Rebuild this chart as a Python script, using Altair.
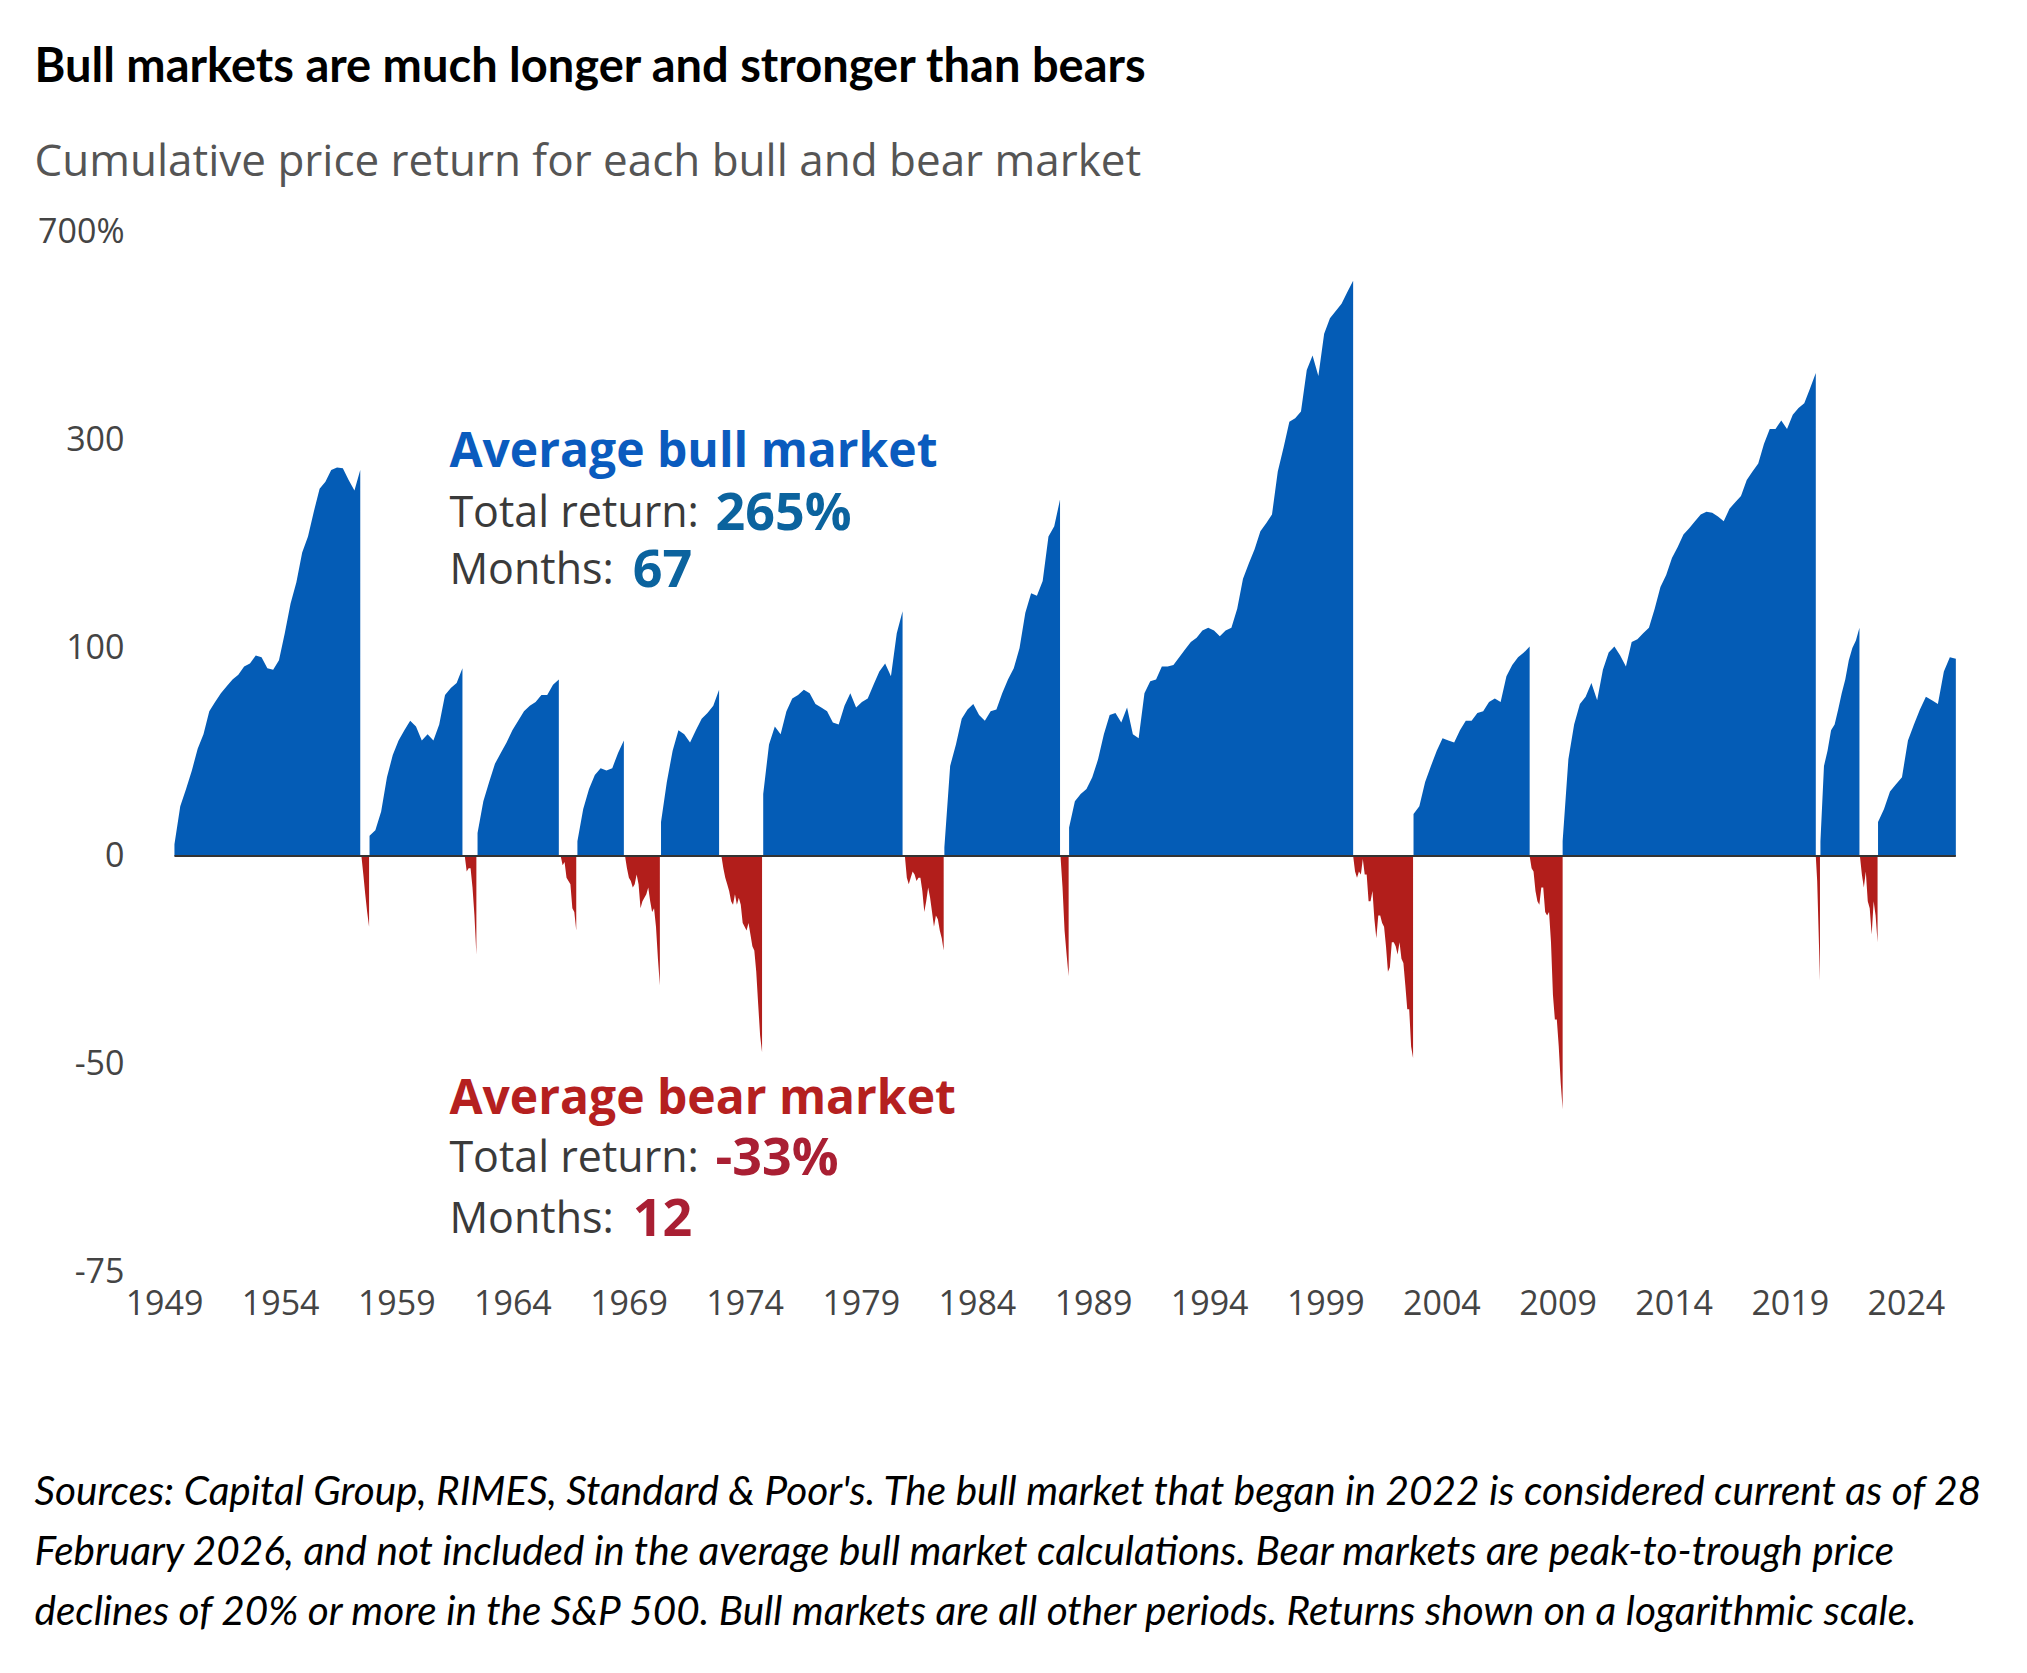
import altair as alt
import pandas as pd

# ---------------- data (cumulative price return, %) ----------------
# each market: kind, start (fractional year), end (fractional year), values
bull1 = [4, 18, 25, 33, 43, 50, 62, 67, 72, 76, 80, 83, 88, 90, 95, 94, 87, 86, 92, 110,
         132, 149, 175, 190, 215, 240, 248, 262, 265, 264, 250, 238, 262]
bear1 = [0, -6, -12, -17, -21]
bull2 = [7, 9, 16, 30, 40, 47, 52, 57, 54, 47, 50, 47, 55, 71, 75, 78, 87]
bear2 = [0, -5, -4, -4, -10, -18, -28]
bull3 = [8, 20, 28, 36, 41, 46, 52, 57, 62, 65, 67, 71, 71, 77, 80]
bear3 = [0, -3, -2, -7, -8, -9, -16, -17, -22]
bull4 = [5, 17, 25, 31, 34, 33, 34, 41, 47]
bear4 = [0, -4, -7, -8, -10, -9, -6, -9, -16, -14, -13, -12, -10, -14, -17, -16, -21, -29, -35]
bull5 = [12, 28, 42, 52, 50, 46, 52, 58, 61, 65, 74]
bear5 = [0, -4, -7, -9, -11, -14, -15, -12, -15, -13, -15, -20, -21, -22, -20, -23, -26, -27,
         -32, -39, -45, -48]
bull6 = [23, 45, 54, 50, 62, 69, 71, 74, 72, 66, 64, 62, 56, 55, 65, 72, 64, 67, 69, 77,
         85, 90, 82, 110, 126]
bear6 = [0, -7, -9, -7, -5, -6, -8, -7, -7, -11, -17, -14, -10, -13, -17, -21, -18, -19, -22, -24, -27]
bull7 = [3, 35, 45, 58, 63, 66, 60, 57, 62, 63, 72, 80, 87, 100, 125, 140, 138, 150, 190, 200, 228]
bear7 = [0, -10, -22, -28, -33]
bull8 = [10, 20, 23, 25, 30, 38, 50, 60, 61, 56, 64, 50, 48, 72, 79, 80, 88, 88, 89, 94,
         99, 104, 107, 112, 114, 112, 108, 112, 114, 128, 152, 165, 178, 195, 203, 212, 260,
         290, 325, 330, 340, 405, 430, 395, 470, 500, 515, 530, 555, 580]
bear8 = [0, -5, -7, -5, -6, -1, -6, -6, -14, -14, -11, -19, -24, -18, -18, -20, -21, -26,
         -32, -31, -25, -25, -26, -28, -25, -29, -30, -35, -40, -40, -47, -49]
bull9 = [15, 18, 28, 35, 42, 48, 47, 46, 52, 57, 57, 61, 62, 67, 69, 67, 82, 89, 94, 97, 101]
bear9 = [0, -4, -5, -11, -14, -15, -10, -10, -17, -18, -17, -25, -37, -42, -42, -47, -53, -57]
bull10 = [5, 38, 55, 66, 70, 78, 68, 86, 97, 101, 95, 88, 104, 106, 110, 114, 128, 145, 155,
          170, 180, 192, 198, 205, 212, 215, 214, 210, 205, 218, 225, 232, 250, 260, 270, 295,
          315, 315, 327, 315, 335, 345, 352, 375, 400]
bear10 = [0, -8, -22, -34]
bull11 = [5, 35, 42, 52, 55, 63, 72, 80, 92, 100, 105, 114]
bear11 = [0, -6, -10, -5, -14, -16, -23, -14, -18, -25]
bull12 = [12, 17, 24, 27, 30, 47, 55, 63, 70, 68, 66, 85, 94, 93]

markets = [
    ("bull", 1949.45, 1957.45, bull1), ("bear", 1957.50, 1957.83, bear1),
    ("bull", 1957.85, 1961.85, bull2), ("bear", 1961.95, 1962.45, bear2),
    ("bull", 1962.50, 1966.00, bull3), ("bear", 1966.08, 1966.75, bear3),
    ("bull", 1966.80, 1968.80, bull4), ("bear", 1968.85, 1970.35, bear4),
    ("bull", 1970.40, 1972.90, bull5), ("bear", 1973.00, 1974.75, bear5),
    ("bull", 1974.80, 1980.80, bull6), ("bear", 1980.90, 1982.57, bear6),
    ("bull", 1982.60, 1987.58, bull7), ("bear", 1987.60, 1987.95, bear7),
    ("bull", 1987.97, 2000.20, bull8), ("bear", 2000.20, 2002.78, bear8),
    ("bull", 2002.80, 2007.80, bull9), ("bear", 2007.80, 2009.22, bear9),
    ("bull", 2009.22, 2020.12, bull10), ("bear", 2020.12, 2020.30, bear10),
    ("bull", 2020.32, 2022.00, bull11), ("bear", 2022.02, 2022.78, bear11),
    ("bull", 2022.80, 2026.15, bull12),
]

x_ticks = [1949, 1954, 1959, 1964, 1969, 1974, 1979, 1984, 1989, 1994, 1999, 2004, 2009, 2014, 2019, 2024]
y_tick_returns = [-75, -50, 0, 100, 300, 700]

rows = []
for i, (kind, start, end, vals) in enumerate(markets):
    n = len(vals)
    for j, v in enumerate(vals):
        rows.append({"market": i, "kind": kind,
                     "t": start + (end - start) * j / (n - 1), "ret": v})
df = pd.DataFrame(rows)

BLUE = "#045CB6"
RED = "#B21E1B"
TFONT = "Lato"       # title / footnote
AFONT = "Open Sans"  # axes / annotations

x_scale = alt.Scale(domain=[1949, 2026.2], nice=False, zero=False)
y_scale = alt.Scale(domain=[-2, 3], nice=False, zero=False)

areas = alt.Chart(df).transform_calculate(
    L="log(1 + datum.ret / 100) / LN2"
).mark_area(interpolate="linear").encode(
    x=alt.X("t:Q", scale=x_scale,
            axis=alt.Axis(values=x_ticks, format="d", title=None, grid=False, domain=False,
                          ticks=False, labelFont=AFONT, labelFontSize=34, labelColor="#444",
                          labelPadding=15, labelOverlap=False, labelFlush=False, labelBound=False)),
    y=alt.Y("L:Q", scale=y_scale, stack=None,
            axis=alt.Axis(values=[-2, -1, 0, 1, 2, 3], title=None, grid=False, domain=False,
                          ticks=False, labelFont=AFONT, labelFontSize=34, labelColor="#444",
                          labelPadding=40, labelOverlap=False, labelFlush=False,
                          labelExpr="round(pow(2, datum.value) * 100 - 100) + (datum.value == 3 ? '%' : '')")),
    color=alt.Color("kind:N", scale=alt.Scale(domain=["bull", "bear"], range=[BLUE, RED]), legend=None),
    detail="market:N",
)

zero_line = alt.Chart(pd.DataFrame({"x1": [1949.45], "x2": [2026.15], "y": [0]})).mark_rule(
    color="#333", strokeWidth=2
).encode(x="x1:Q", x2="x2:Q", y="y:Q")

# annotations
ann = pd.DataFrame([
    {"t": 1961.29, "L": 1.9375, "text": "Average bull market", "style": "bullhead"},
    {"t": 1961.29, "L": 1.644, "text": "Total return:", "style": "plain"},
    {"t": 1972.75, "L": 1.644, "text": "265%", "style": "bullnum"},
    {"t": 1961.29, "L": 1.369, "text": "Months:", "style": "plain"},
    {"t": 1969.18, "L": 1.369, "text": "67", "style": "bullnum"},
    {"t": 1961.29, "L": -1.175, "text": "Average bear market", "style": "bearhead"},
    {"t": 1961.29, "L": -1.456, "text": "Total return:", "style": "plain"},
    {"t": 1972.75, "L": -1.456, "text": "-33%", "style": "bearnum"},
    {"t": 1961.29, "L": -1.75, "text": "Months:", "style": "plain"},
    {"t": 1969.18, "L": -1.75, "text": "12", "style": "bearnum"},
])
styles = {
    "bullhead": dict(color="#0A5BBE", fontWeight="bold", fontSize=48),
    "bullnum": dict(color="#0B639E", fontWeight="bold", fontSize=52),
    "bearhead": dict(color="#B5201F", fontWeight="bold", fontSize=48),
    "bearnum": dict(color="#A91F33", fontWeight="bold", fontSize=52),
    "plain": dict(color="#3A3A3A", fontWeight="normal", fontSize=43),
}
ann_layers = []
for key, st in styles.items():
    ann_layers.append(
        alt.Chart(ann).transform_filter(alt.datum.style == key).mark_text(
            align="left", baseline="middle", font=AFONT, **st
        ).encode(x=alt.X("t:Q", scale=x_scale), y=alt.Y("L:Q", scale=y_scale), text="text:N")
    )

foot_lines = [
    "Sources: Capital Group, RIMES, Standard & Poor's. The bull market that began in 2022 is considered current as of 28",
    "February 2026, and not included in the average bull market calculations. Bear markets are peak-to-trough price",
    "declines of 20% or more in the S&P 500. Bull markets are all other periods. Returns shown on a logarithmic scale.",
]
foot_layers = []
for k, line in enumerate(foot_lines):
    foot_layers.append(
        alt.Chart(pd.DataFrame({"text": [line]})).mark_text(
            align="left", baseline="middle", font=TFONT, fontStyle="italic", fontSize=40.5, color="#000"
        ).encode(x=alt.value(-129.5), y=alt.value(1261 + 60 * k), text="text:N")
    )

chart = alt.layer(areas, zero_line, *ann_layers, *foot_layers).properties(
    width=1793, height=1040,
    background="white",
    padding={"left": 26, "top": 36, "right": 5, "bottom": 5},
    title=alt.TitleParams(
        text="Bull markets are much longer and stronger than bears",
        subtitle="Cumulative price return for each bull and bear market",
        anchor="start", frame="group", dx=-129.5,
        font=TFONT, fontSize=47, fontWeight="bold", color="#000",
        subtitleFont=AFONT, subtitleFontSize=44, subtitleColor="#555", subtitleFontWeight="normal",
        subtitlePadding=49, offset=29,
    ),
).configure_view(strokeWidth=0)

chart.save("out.html", embed_options={"renderer": "svg", "actions": False})
